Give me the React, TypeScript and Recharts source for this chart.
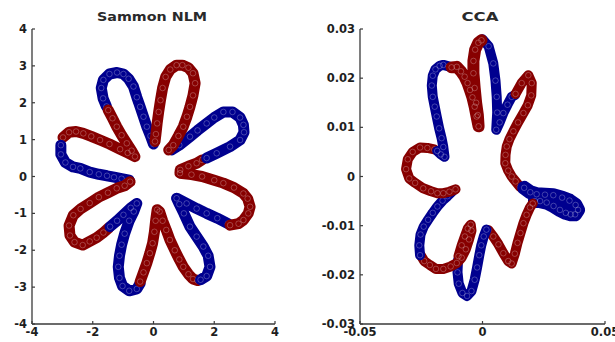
import React from 'react';
import { ScatterChart, Scatter, XAxis, YAxis } from 'recharts';

type P = [number, number];

// ---- Sammon NLM (left) : segments traced in loop order ----
const sammonBlue1: P[] = [[0.0,0.88],[-0.1,1.1],[-0.22,1.35],[-0.33,1.62],[-0.44,1.89],[-0.55,2.15],[-0.66,2.44],[-0.82,2.65],[-0.99,2.78],[-1.2,2.82],[-1.45,2.78],[-1.65,2.62],[-1.72,2.4],[-1.66,2.12],[-1.55,1.9]];
const sammonRed1: P[] = [[-1.49,1.8],[-1.35,1.58],[-1.21,1.35],[-1.05,1.12],[-0.88,0.9],[-0.72,0.7],[-0.61,0.54],[-0.85,0.64],[-1.1,0.74],[-1.45,0.88],[-1.76,0.99],[-2.05,1.09],[-2.31,1.17],[-2.55,1.22],[-2.78,1.2],[-2.98,1.06]];
const sammonBlue2: P[] = [[-3.05,0.85],[-3.05,0.6],[-2.9,0.38],[-2.65,0.26],[-2.41,0.22],[-2.1,0.12],[-1.8,0.06],[-1.53,0.02],[-1.3,-0.02],[-1.05,-0.06],[-0.8,-0.1]];
const sammonRed2: P[] = [[-0.77,-0.14],[-0.95,-0.25],[-1.21,-0.32],[-1.5,-0.44],[-1.8,-0.56],[-2.1,-0.72],[-2.4,-0.88],[-2.64,-1.05],[-2.78,-1.33],[-2.75,-1.6],[-2.6,-1.78],[-2.33,-1.86],[-2.1,-1.76],[-1.87,-1.66],[-1.65,-1.52],[-1.47,-1.39]];
const sammonBlue3: P[] = [[-1.43,-1.36],[-1.2,-1.2],[-0.99,-1.04],[-0.75,-0.85],[-0.55,-0.73],[-0.65,-0.95],[-0.8,-1.2],[-0.95,-1.55],[-1.05,-1.85],[-1.12,-2.15],[-1.16,-2.45],[-1.12,-2.75],[-1.02,-2.97],[-0.8,-3.1],[-0.55,-3.05],[-0.44,-2.9]];
const sammonRed3: P[] = [[-0.44,-2.85],[-0.33,-2.6],[-0.22,-2.35],[-0.12,-2.08],[-0.03,-1.81],[0.03,-1.5],[0.07,-1.2],[0.12,-0.9],[0.2,-0.95],[0.3,-1.2],[0.42,-1.45],[0.54,-1.72],[0.7,-2.0],[0.85,-2.25],[0.98,-2.45],[1.15,-2.65],[1.3,-2.78],[1.45,-2.82]];
const sammonBlue4: P[] = [[1.55,-2.8],[1.75,-2.7],[1.86,-2.45],[1.8,-2.15],[1.64,-1.9],[1.42,-1.63],[1.2,-1.36],[1.0,-1.0],[0.85,-0.75],[0.76,-0.59],[1.09,-0.73],[1.42,-0.87],[1.75,-1.0],[2.1,-1.13],[2.45,-1.28]];
const sammonRed4: P[] = [[2.52,-1.32],[2.8,-1.28],[2.96,-1.18],[3.12,-1.0],[3.18,-0.82],[3.1,-0.6],[2.96,-0.46],[2.65,-0.3],[2.3,-0.18],[2.0,-0.1],[1.6,0.0],[1.25,0.05],[0.87,0.09],[0.88,0.18],[1.15,0.28],[1.42,0.36],[1.6,0.45]];
const sammonBlue5: P[] = [[1.75,0.5],[2.08,0.63],[2.52,0.81],[2.85,0.99],[2.98,1.2],[2.96,1.4],[2.85,1.6],[2.6,1.75],[2.3,1.75],[2.0,1.6],[1.75,1.44],[1.45,1.25],[1.2,1.08],[0.85,0.85],[0.6,0.72]];
const sammonRed5: P[] = [[0.5,0.72],[0.65,0.85],[0.82,1.1],[0.98,1.35],[1.1,1.62],[1.2,1.89],[1.3,2.2],[1.37,2.53],[1.3,2.8],[1.15,2.95],[0.95,3.02],[0.76,3.02],[0.55,2.9],[0.4,2.7],[0.3,2.4],[0.23,2.07],[0.17,1.75],[0.12,1.44],[0.08,1.15],[0.05,0.95]];

// ---- CCA (right) ----
const ccaBlue1: P[] = [[0.0,0.0279],[0.0025,0.0265],[0.0044,0.023],[0.0053,0.0195],[0.0058,0.0162],[0.006,0.013],[0.0056,0.0095],[0.007,0.011],[0.0085,0.0129],[0.0102,0.0146],[0.0119,0.0162],[0.0133,0.0166]];
const ccaRed1: P[] = [[0.0135,0.0168],[0.016,0.019],[0.0187,0.0206],[0.0201,0.019],[0.0199,0.0165],[0.0185,0.0145],[0.0167,0.0129],[0.0145,0.011],[0.0126,0.0092],[0.011,0.0076],[0.0099,0.0061],[0.0094,0.0044],[0.0093,0.0027],[0.0105,0.0012],[0.0119,0.0],[0.0135,-0.001],[0.0153,-0.0021]];
const ccaBlue2: P[] = [[0.017,-0.0023],[0.0195,-0.0032],[0.0221,-0.0036],[0.0255,-0.0037],[0.0289,-0.0038],[0.0325,-0.0043],[0.0355,-0.0049],[0.038,-0.0058],[0.039,-0.0068],[0.0378,-0.0077],[0.036,-0.0077],[0.034,-0.0074],[0.0316,-0.0068],[0.029,-0.006],[0.0262,-0.0053],[0.0235,-0.005],[0.0214,-0.005]];
const ccaRed2: P[] = [[0.0205,-0.0055],[0.0194,-0.0063],[0.018,-0.0078],[0.0167,-0.0095],[0.0155,-0.0115],[0.0143,-0.0135],[0.0132,-0.0157],[0.0119,-0.0177],[0.0105,-0.0172],[0.0085,-0.0156],[0.0065,-0.0138],[0.0044,-0.0122],[0.0024,-0.0109]];
const ccaBlue3: P[] = [[0.0016,-0.0108],[0.0005,-0.0122],[-0.0005,-0.014],[-0.0013,-0.016],[-0.0022,-0.0185],[-0.0032,-0.021],[-0.0045,-0.0233],[-0.0063,-0.0243],[-0.0082,-0.0237],[-0.0097,-0.0218],[-0.0102,-0.0195],[-0.01,-0.017]];
const ccaRed3: P[] = [[-0.0098,-0.0162],[-0.0085,-0.014],[-0.0072,-0.0122],[-0.006,-0.0106],[-0.0048,-0.0098],[-0.0045,-0.011],[-0.0055,-0.0128],[-0.0068,-0.0148],[-0.0085,-0.0165],[-0.0105,-0.0176],[-0.013,-0.0183],[-0.016,-0.0188],[-0.019,-0.0188],[-0.0215,-0.018],[-0.0238,-0.0172],[-0.0252,-0.016]];
const ccaBlue4: P[] = [[-0.0255,-0.016],[-0.0258,-0.014],[-0.0253,-0.0118],[-0.024,-0.0102],[-0.0222,-0.0088],[-0.0203,-0.0074],[-0.0184,-0.0061],[-0.0163,-0.0049],[-0.0143,-0.004],[-0.0122,-0.003]];
const ccaRed4: P[] = [[-0.011,-0.0026],[-0.0135,-0.0031],[-0.016,-0.0034],[-0.0184,-0.0034],[-0.021,-0.003],[-0.0242,-0.0024],[-0.0275,-0.0013],[-0.0299,-0.0004],[-0.0312,0.0015],[-0.0305,0.0035],[-0.0285,0.005],[-0.0255,0.0059],[-0.0225,0.0058],[-0.0197,0.0055]];
const ccaBlue5: P[] = [[-0.0185,0.0052],[-0.017,0.0045],[-0.0155,0.004],[-0.016,0.006],[-0.0167,0.0078],[-0.0177,0.0098],[-0.0187,0.0122],[-0.0195,0.0142],[-0.0203,0.0162],[-0.0207,0.0185],[-0.0203,0.0205],[-0.0192,0.0218],[-0.0175,0.0225],[-0.016,0.0227],[-0.0138,0.0224]];
const ccaRed5: P[] = [[-0.0126,0.0222],[-0.0105,0.0223],[-0.0088,0.0214],[-0.0073,0.0203],[-0.0061,0.019],[-0.0051,0.0176],[-0.0041,0.0161],[-0.0032,0.0142],[-0.0024,0.0122],[-0.0016,0.0102],[-0.0019,0.0125],[-0.0026,0.015],[-0.0032,0.018],[-0.0037,0.021],[-0.0037,0.0235],[-0.003,0.0258],[-0.0017,0.0272],[-0.0004,0.0277]];

// ---- axes ----
const sammonXTicks = [-4, -2, 0, 2, 4];
const sammonYTicks = [-4, -3, -2, -1, 0, 1, 2, 3, 4];
const ccaXTicks = [-0.05, 0, 0.05];
const ccaYTicks = [-0.03, -0.02, -0.01, 0, 0.01, 0.02, 0.03];

const BLUE = '#00008f';
const RED = '#870000';

const sammonSegments = [
  { pts: sammonBlue1, color: BLUE }, { pts: sammonRed1, color: RED },
  { pts: sammonBlue2, color: BLUE }, { pts: sammonRed2, color: RED },
  { pts: sammonBlue3, color: BLUE }, { pts: sammonRed3, color: RED },
  { pts: sammonBlue4, color: BLUE }, { pts: sammonRed4, color: RED },
  { pts: sammonBlue5, color: BLUE }, { pts: sammonRed5, color: RED },
];
const ccaSegments = [
  { pts: ccaBlue1, color: BLUE }, { pts: ccaRed1, color: RED },
  { pts: ccaBlue2, color: BLUE, band: 14 }, { pts: ccaRed2, color: RED },
  { pts: ccaBlue3, color: BLUE }, { pts: ccaRed3, color: RED },
  { pts: ccaBlue4, color: BLUE }, { pts: ccaRed4, color: RED },
  { pts: ccaBlue5, color: BLUE }, { pts: ccaRed5, color: RED, band: 12 },
];

const toRows = (pts: P[]) => pts.map(([x, y]) => ({ x, y }));

const tickStyle = { fontFamily: 'DejaVu Sans', fontWeight: 700, fontSize: 11.5, fill: '#1e1e1e' };
const axisLineStyle = { stroke: '#3a3a3a', strokeWidth: 1.3 };
const tickLineStyle = { stroke: '#3a3a3a', strokeWidth: 1.2 };

function Ring(props: any) {
  const { cx, cy } = props;
  if (cx == null || cy == null) return null;
  return <circle cx={cx} cy={cy} r={2.8} fill="none" stroke="rgba(255,255,255,0.28)" strokeWidth={0.9} />;
}

function Panel({ segments, xTicks, yTicks, xDomain, yDomain, width, margin, yWidth, band, fmt }: any) {
  return (
    <ScatterChart width={width} height={342} margin={margin}>
      <XAxis type="number" dataKey="x" domain={xDomain} ticks={xTicks} interval={0} allowDataOverflow
        height={18} tickSize={-3} tickMargin={7} tick={tickStyle} axisLine={axisLineStyle} tickLine={tickLineStyle}
        tickFormatter={fmt} />
      <YAxis type="number" dataKey="y" domain={yDomain} ticks={yTicks} interval={0} allowDataOverflow
        width={yWidth} tickSize={-3} tickMargin={8} tick={tickStyle} axisLine={axisLineStyle} tickLine={tickLineStyle}
        tickFormatter={fmt} />
      {segments.map((s: any, i: number) => (
        <Scatter key={i} data={toRows(s.pts)} fill={s.color} isAnimationActive={false}
          line={{ stroke: s.color, strokeWidth: s.band || band, strokeLinejoin: 'round', strokeLinecap: 'round' }}
          lineType="joint" shape={Ring} />
      ))}
    </ScatterChart>
  );
}

const fmt = (v: number) => String(Math.round(v * 1000) / 1000);

export default function App() {
  return (
    <div style={{ position: 'absolute', left: 0, top: 0, width: 615, height: 342, overflow: 'hidden', background: '#fff' }}>
      <div style={{ position: 'absolute', left: 0, top: 0 }}>
        <Panel segments={sammonSegments} xTicks={sammonXTicks} yTicks={sammonYTicks} xDomain={[-4, 4]} yDomain={[-4, 4]}
          width={300} margin={{ top: 29, right: 25, bottom: 0, left: 2 }} yWidth={30} band={11} fmt={fmt} />
      </div>
      <div style={{ position: 'absolute', left: 300, top: 0 }}>
        <Panel segments={ccaSegments} xTicks={ccaXTicks} yTicks={ccaYTicks} xDomain={[-0.05, 0.05]} yDomain={[-0.03, 0.03]}
          width={315} margin={{ top: 29, right: 10, bottom: 0, left: 20 }} yWidth={40} band={10} fmt={fmt} />
      </div>
      <svg width={615} height={342} style={{ position: 'absolute', left: 0, top: 0, pointerEvents: 'none' }}>
        <text x={152} y={20.5} textAnchor="middle" fontFamily="DejaVu Sans" fontWeight={700} fontSize={12.5}
          fill="#2a2a2a" textLength={110} lengthAdjust="spacingAndGlyphs">Sammon NLM</text>
        <text x={480} y={20.5} textAnchor="middle" fontFamily="DejaVu Sans" fontWeight={700} fontSize={12.5}
          fill="#2a2a2a" textLength={37} lengthAdjust="spacingAndGlyphs">CCA</text>
      </svg>
    </div>
  );
}
